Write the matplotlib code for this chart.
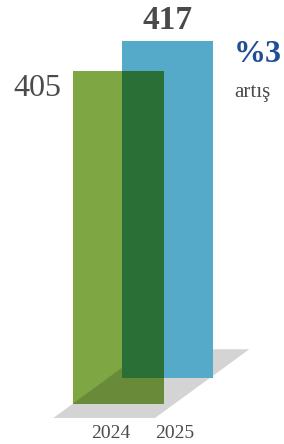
import matplotlib
matplotlib.use("Agg")
import matplotlib.pyplot as plt
from matplotlib.patches import Polygon
import numpy as np

# data
years = ["2024", "2025"]
values = [405, 417]
change_label = "%3"
change_word = "artış"

# styles
green = np.array([126, 166, 67]) / 255
blue = np.array([84, 170, 200]) / 255
gray = np.array([212, 212, 212]) / 255
text_gray = "#4a4a4a"
pct_blue = "#1f5096"
serif = ["Liberation Serif", "DejaVu Serif"]

W, H = 284, 444
fig = plt.figure(figsize=(W / 100, H / 100), dpi=100)
ax = fig.add_axes([0, 0, 1, 1])
ax.set_xlim(0, W)
ax.set_ylim(255.8, 433.4)
ax.axis("off")

bar_w = 91
x_pos = [118.5, 167.5]           # bar centres (px)
base = [271.6, 282.4]           # perspective baselines (value units)

# floor shadow (parallelogram)
shadow_pts = [(53.3, 266.2), (155, 266.2), (249.3, 293.7), (147.3, 293.7)]
ax.add_patch(Polygon(shadow_pts, closed=True, facecolor=gray, edgecolor="none", zorder=1))

# back bar (2025)
b_blue = ax.bar(x_pos[1], values[1] - base[1], bottom=base[1], width=bar_w,
                color=blue, zorder=2, linewidth=0)[0]
# front bar (2024)
b_green = ax.bar(x_pos[0], values[0] - base[0], bottom=base[0], width=bar_w,
                 color=green, zorder=3, linewidth=0)[0]

# multiply-blended overlaps
sh2 = Polygon(shadow_pts, closed=True, facecolor=green * gray, edgecolor="none", zorder=4)
ax.add_patch(sh2)
sh2.set_clip_path(b_green)
ov = ax.bar(x_pos[1], values[1] - base[1], bottom=base[1], width=bar_w,
            color=green * blue, zorder=5, linewidth=0)[0]
ov.set_clip_path(b_green)

# value labels
ax.text(61, values[0] - 9.9, str(values[0]), ha="right", va="baseline",
        fontsize=23, color=text_gray, family=serif)
ax.text(x_pos[1], values[1] + 4.8, str(values[1]), ha="center", va="baseline",
        fontsize=24, fontweight="bold", color=text_gray, family=serif)
ax.text(234, 408.4, change_label, ha="left", va="baseline",
        fontsize=23, fontweight="bold", color=pct_blue, family=serif)
ax.text(234, 394.6, change_word, ha="left", va="baseline",
        fontsize=15, color=text_gray, family=serif)

# year labels
for lx, y in zip([110.5, 175], years):
    ax.text(lx, 258.4, y, ha="center", va="baseline", fontsize=14,
            color=text_gray, family=serif)

fig.savefig("out.png", dpi=100)
